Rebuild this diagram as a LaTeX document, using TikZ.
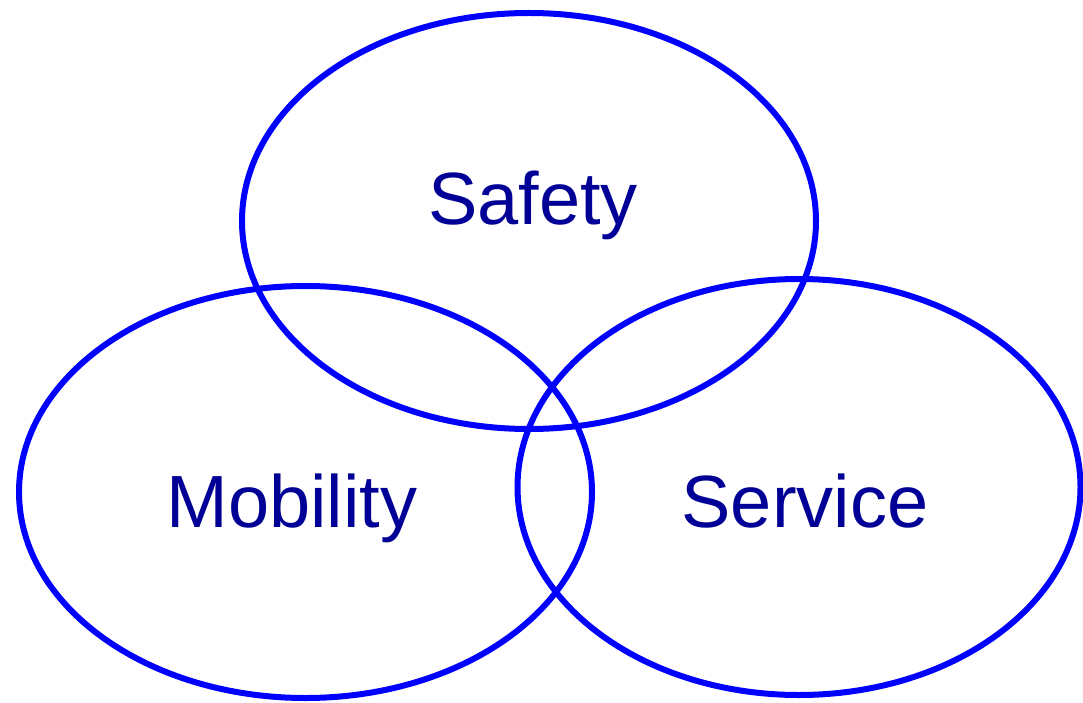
\documentclass[tikz,border=0pt]{standalone}
\usepackage{fontspec}
\setmainfont{Liberation Sans}
\usepackage{tikz}
\usetikzlibrary{shapes.geometric}
\definecolor{ringblue}{RGB}{0,0,255}
\definecolor{textnavy}{RGB}{0,0,150}

\begin{document}
\begin{tikzpicture}[
x=1pt,y=-1pt,
ring/.style={
  draw=ringblue,
  ellipse,
  line width=6pt,
  inner sep=0pt,
  fill=none
  },
tag/.style={
  anchor=base,
  text=textnavy,
  inner sep=0pt,
  font=\fontsize{74}{88}\selectfont
  }
]
\useasboundingbox (0,0) rectangle (1083,703);

\node[ring,minimum width=574pt,minimum height=416pt] (safety) at (529,221) {};
\node[ring,minimum width=573pt,minimum height=412pt] (mobility) at (305.5,492) {};
\node[ring,minimum width=563pt,minimum height=416pt] (service) at (799,487) {};

\node[tag] (safetytext) at (533,225) {Safety};
\node[tag] (mobilitytext) at (292,527) {Mobility};
\node[tag] (servicetext) at (805,527) {Service};
\end{tikzpicture}
\end{document}
